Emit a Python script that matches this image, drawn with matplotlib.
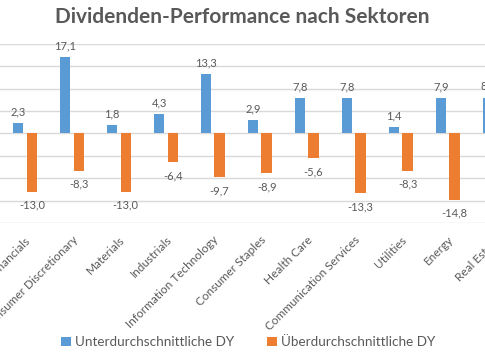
import numpy as np
import matplotlib
matplotlib.use("Agg")
import matplotlib.pyplot as plt

plt.rcParams['font.family'] = ['Lato', 'DejaVu Sans']

# Daten
sektoren = ["Financials", "Consumer Discretionary", "Materials", "Industrials",
            "Information Technology", "Consumer Staples", "Health Care",
            "Communication Services", "Utilities", "Energy", "Real Estate"]
unter_dy = [2.3, 17.1, 1.8, 4.3, 13.3, 2.9, 7.8, 7.8, 1.4, 7.9, 8.0]
ueber_dy = [-13.0, -8.3, -13.0, -6.4, -9.7, -8.9, -5.6, -13.3, -8.3, -14.8, -10.0]

BLAU = "#5B9BD5"
ORANGE = "#ED7D31"
TEXT = "#595959"
GRID = "#D9D9D9"

W, H = 485, 360
fig = plt.figure(figsize=(4.852, 3.602), dpi=100)
ax = fig.add_axes([0, 1 - 223 / H, 1, (223 - 44) / H])

x = np.arange(len(sektoren))
breite = 0.22
off = 0.145
b1 = ax.bar(x - off, unter_dy, breite, color=BLAU, label="Unterdurchschnittliche DY")
b2 = ax.bar(x + off, ueber_dy, breite, color=ORANGE, label="Überdurchschnittliche DY")

def fmt(v):
    return f"{v:.1f}".replace(".", ",")

for bars, vals in ((b1, unter_dy), (b2, ueber_dy)):
    for r, v in zip(bars, vals):
        xc = r.get_x() + r.get_width() / 2
        if v >= 0:
            ax.annotate(fmt(v), (xc, v), xytext=(0, 6), textcoords="offset pixels",
                        ha="center", va="bottom", fontsize=8, color=TEXT,
                        annotation_clip=False)
        else:
            ax.annotate(fmt(v), (xc, v), xytext=(0, -8), textcoords="offset pixels",
                        ha="center", va="top", fontsize=8, color=TEXT,
                        annotation_clip=False)

# Kategorienbeschriftung (auch die am Rand abgeschnittene)
for xi, name in zip(x, sektoren):
    ax.annotate(name, (xi, 0), xycoords=ax.get_xaxis_transform(),
                xytext=(0, -11), textcoords="offset pixels",
                rotation=45, ha="right", va="top", rotation_mode="anchor",
                fontsize=8.5, color=TEXT, annotation_clip=False)

sp = 46.94
ax.set_xticks([])
ax.set_xlim(-25 / sp, (W - 25) / sp)
ax.set_ylim(-20, 20)
ax.set_yticks(np.arange(-20, 21, 5))
ax.yaxis.grid(True, color=GRID, linewidth=1)
ax.set_axisbelow(True)
ax.tick_params(axis="y", left=False, labelleft=False)
for s in ax.spines.values():
    s.set_visible(False)

fig.suptitle("Dividenden-Performance nach Sektoren", x=0.5, y=1 - 17 / H,
             va="center", fontsize=15, fontweight="bold", color=TEXT)

fig.legend(handles=[b1, b2], loc="center", bbox_to_anchor=(248 / W, 1 - 342 / H),
           ncol=2, frameon=False, fontsize=9.7, labelcolor=TEXT,
           handlelength=0.7, handleheight=0.7, handletextpad=0.3, columnspacing=2.5)

fig.savefig("out.png", dpi=100)
